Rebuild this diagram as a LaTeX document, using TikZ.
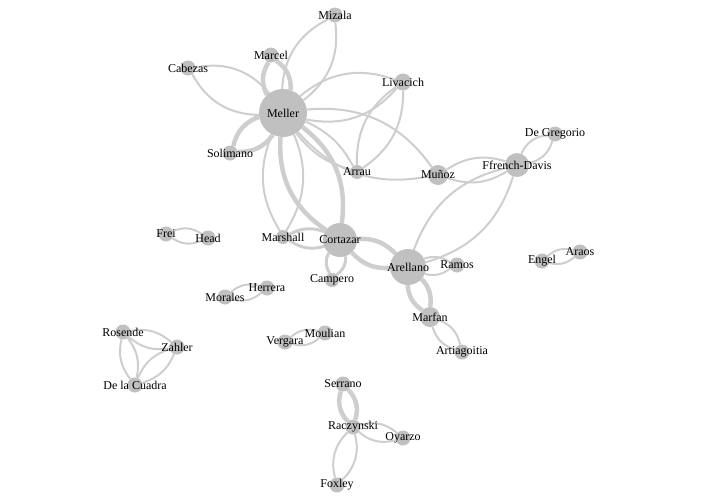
\documentclass[tikz,border=0pt]{standalone}
\usepackage{fontspec}
\setmainfont{Liberation Serif}
\usetikzlibrary{backgrounds}

\definecolor{nodeGray}{RGB}{192,192,192}
\definecolor{edgeGray}{RGB}{206,206,206}

\tikzstyle{nS}=[circle,fill=nodeGray,inner sep=0pt,minimum size=15pt]
\tikzstyle{eS}=[draw=edgeGray,line width=2pt]
\tikzstyle{eM}=[draw=edgeGray,line width=3pt]
\tikzstyle{eT}=[draw=edgeGray,line width=4.5pt]

\begin{document}
\begin{tikzpicture}[x=1pt,y=-1pt,font=\fontsize{12}{14}\selectfont]
    \useasboundingbox (0,0) rectangle (708,501);
    % Meller star
    \draw (283,113) node[nS,minimum size=48pt,label=center:Meller] (meller) {};
    \draw (335,15) node[nS,label=center:Mizala] (mizala) {};
    \draw (271,55) node[nS,label=center:Marcel] (marcel) {};
    \draw (188,68) node[nS,label=center:Cabezas] (cabezas) {};
    \draw (403,82) node[nS,minimum size=17pt,label=center:Livacich] (livacich) {};
    \draw (230,153) node[nS,label=center:Solimano] (solimano) {};
    \draw (357,172) node[nS,minimum size=14pt,label=center:Arrau] (arrau) {};
    \draw (438,175) node[nS,minimum size=20pt,label=center:Muñoz] (munoz) {};
    \draw (517,165) node[nS,minimum size=24pt,label=center:Ffrench-Davis] (ffrench) {};
    \draw (555,134) node[nS,label=center:De Gregorio] (degregorio) {};
    % Cortazar / Arellano
    \draw (283,237) node[nS,minimum size=14pt,label=center:Marshall] (marshall) {};
    \draw (340,240) node[nS,minimum size=34pt,label=center:Cortazar] (cortazar) {};
    \draw (332,280) node[nS,minimum size=14pt,label=center:Campero] (campero) {};
    \draw (408,267) node[nS,minimum size=36pt,label=center:Arellano] (arellano) {};
    \draw (457,265) node[nS,label=center:Ramos] (ramos) {};
    \draw (430,317) node[nS,minimum size=20pt,label=center:Marfan] (marfan) {};
    \draw (462,352) node[nS,label=center:Artiagoitia] (artiagoitia) {};
    % small groups
    \draw (166,234) node[nS,label=center:Frei] (frei) {};
    \draw (208,238) node[nS,label=center:Head] (head) {};
    \draw (225,297) node[nS,label=center:Morales] (morales) {};
    \draw (267,288) node[nS,label=center:Herrera] (herrera) {};
    \draw (542,261) node[nS,label=center:Engel] (engel) {};
    \draw (580,252) node[nS,label=center:Araos] (araos) {};
    \draw (123,332) node[nS,label=center:Rosende] (rosende) {};
    \draw (177,347) node[nS,label=center:Zahler] (zahler) {};
    \draw (135,385) node[nS,label=center:De la Cuadra] (delacuadra) {};
    \draw (285,342) node[nS,label=center:Vergara] (vergara) {};
    \draw (325,333) node[nS,label=center:Moulian] (moulian) {};
    \draw (343,384) node[nS,label=center:Serrano] (serrano) {};
    \draw (353,427) node[nS,label=center:Raczynski] (raczynski) {};
    \draw (403,438) node[nS,label=center:Oyarzo] (oyarzo) {};
    \draw (337,485) node[nS,label=center:Foxley] (foxley) {};

    \begin{pgfonlayer}{background}
    \path
        (meller) edge[eS,bend left=30] (mizala)
        (meller) edge[eS,bend right=30] (mizala)
        (meller) edge[eT,bend left=30] (marcel)
        (meller) edge[eT,bend right=30] (marcel)
        (meller) edge[eS,bend left=30] (cabezas)
        (meller) edge[eS,bend right=30] (cabezas)
        (meller) edge[eS,bend left=30] (livacich)
        (meller) edge[eS,bend right=30] (livacich)
        (meller) edge[eT,bend left=28] (solimano)
        (meller) edge[eT,bend right=28] (solimano)
        (meller) edge[eS,bend left=18] (arrau)
        (meller) edge[eS,bend right=18] (arrau)
        (meller) edge[eS,bend left=30] (munoz)
        (meller) edge[eS,bend right=30] (munoz)
        (meller) edge[eS,bend left=27] (marshall)
        (meller) edge[eS,bend right=27] (marshall)
        (meller) edge[eT,bend left=30] (cortazar)
        (meller) edge[eT,bend right=30] (cortazar)
        (livacich) edge[eS,bend left=28] (arrau)
        (livacich) edge[eS,bend right=28] (arrau)
        (munoz) edge[eS,bend left=25] (ffrench)
        (munoz) edge[eS,bend right=25] (ffrench)
        (ffrench) edge[eS,bend left=30] (degregorio)
        (ffrench) edge[eS,bend right=30] (degregorio)
        (arellano) edge[eS,bend left=28] (ffrench)
        (arellano) edge[eS,bend right=28] (ffrench)
        (cortazar) edge[eM,bend left=25] (marshall)
        (cortazar) edge[eM,bend right=25] (marshall)
        (cortazar) edge[eM,bend left=30] (campero)
        (cortazar) edge[eM,bend right=30] (campero)
        (cortazar) edge[eT,bend left=25] (arellano)
        (cortazar) edge[eT,bend right=25] (arellano)
        (arellano) edge[eS,bend left=25] (ramos)
        (arellano) edge[eS,bend right=25] (ramos)
        (arellano) edge[eT,bend left=25] (marfan)
        (arellano) edge[eT,bend right=25] (marfan)
        (marfan) edge[eS,bend left=28] (artiagoitia)
        (marfan) edge[eS,bend right=28] (artiagoitia)
        (frei) edge[eS,bend left=28] (head)
        (frei) edge[eS,bend right=28] (head)
        (morales) edge[eS,bend left=28] (herrera)
        (morales) edge[eS,bend right=28] (herrera)
        (engel) edge[eS,bend left=28] (araos)
        (engel) edge[eS,bend right=28] (araos)
        (vergara) edge[eS,bend left=28] (moulian)
        (vergara) edge[eS,bend right=28] (moulian)
        (rosende) edge[eS,bend left=25] (zahler)
        (rosende) edge[eS,bend right=25] (zahler)
        (rosende) edge[eS,bend left=25] (delacuadra)
        (rosende) edge[eS,bend right=25] (delacuadra)
        (zahler) edge[eS,bend left=25] (delacuadra)
        (zahler) edge[eS,bend right=25] (delacuadra)
        (raczynski) edge[eT,bend left=30] (serrano)
        (raczynski) edge[eT,bend right=30] (serrano)
        (raczynski) edge[eS,bend left=28] (oyarzo)
        (raczynski) edge[eS,bend right=28] (oyarzo)
        (raczynski) edge[eS,bend left=30] (foxley)
        (raczynski) edge[eS,bend right=30] (foxley)
    ;
    \end{pgfonlayer}
\end{tikzpicture}
\end{document}
